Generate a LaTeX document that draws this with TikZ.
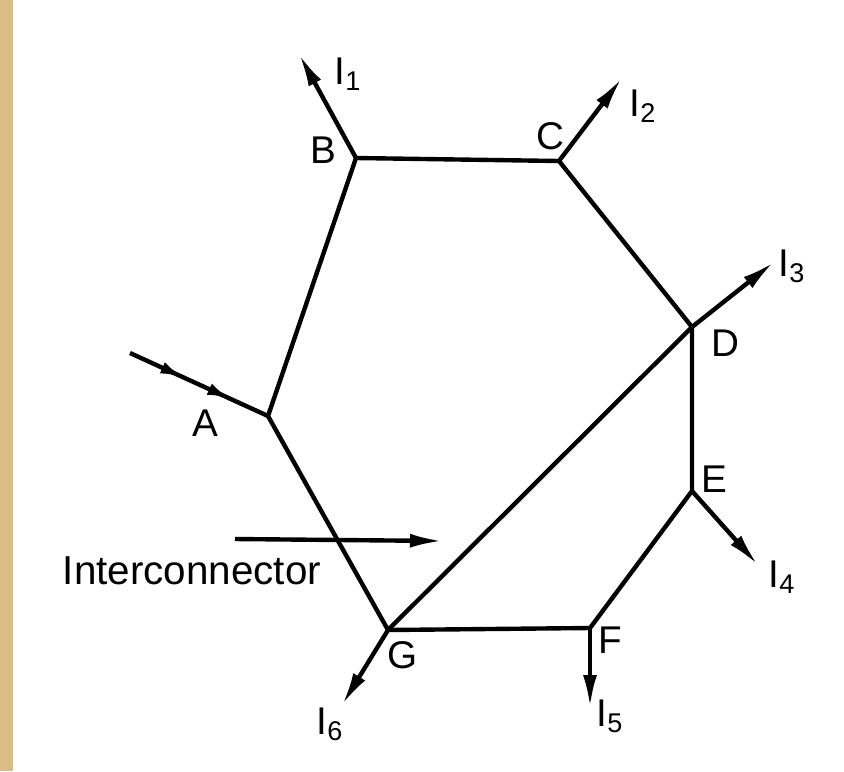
\documentclass[tikz,border=0pt]{standalone}
\usepackage{fontspec}
\setmainfont{Liberation Sans}
\usetikzlibrary{arrows.meta,decorations.markings}
\definecolor{paperTan}{HTML}{D9BC86}
\tikzset{
  busline/.style={line width=2.5pt,line join=round},
  loadarrow/.style={busline,-{Latex[length=0.66cm,width=0.28cm]}},
  feedline/.style={busline,postaction={decorate},decoration={markings,
      mark=at position 0.4 with {\arrow{Latex[length=0.5cm,width=0.24cm]}},
      mark=at position 0.74 with {\arrow{Latex[length=0.5cm,width=0.24cm]}}}},
  bustag/.style={font=\fontsize{22}{24}\selectfont,inner sep=0pt},
}

\begin{document}
\begin{tikzpicture}[x=0.02cm,y=-0.02cm]
  \useasboundingbox (0,0) rectangle (844,771);
  \fill[paperTan] (0,0) rectangle (13,771);
  % ring main junctions
  \coordinate (A) at (268,416);
  \coordinate (B) at (356,158);
  \coordinate (C) at (559,161);
  \coordinate (D) at (692,327);
  \coordinate (E) at (692,491);
  \coordinate (F) at (590,628);
  \coordinate (G) at (388,630);
  % load ends
  \coordinate (i1) at (299,54);
  \coordinate (i2) at (622,78);
  \coordinate (i3) at (774,262);
  \coordinate (i4) at (758,565);
  \coordinate (i5) at (590,708);
  \coordinate (i6) at (342,705);
  \coordinate (feed) at (130,353);
  \coordinate (tieS) at (235,539);
  \coordinate (tieE) at (443,541);

  \draw[busline] (A) -- (B) -- (C) -- (D) -- (E) -- (F) -- (G) -- cycle;
  \draw[busline] (G) -- (D);
  \draw[feedline] (feed) -- (A);
  \foreach \j/\k in {B/i1,C/i2,D/i3,E/i4,F/i5,G/i6}
    \draw[loadarrow] (\j) -- (\k);
  \draw[loadarrow] (tieS) -- (tieE);

  \node[bustag] (lA) at (205,423) {A};
  \node[bustag] (lB) at (323,150) {B};
  \node[bustag] (lC) at (550,136) {C};
  \node[bustag] (lD) at (725,343) {D};
  \node[bustag] (lE) at (714,479) {E};
  \node[bustag] (lF) at (610,640) {F};
  \node[bustag] (lG) at (403,655) {G};
  \node[bustag] (l1) at (348,74) {I\textsubscript{1}};
  \node[bustag] (l2) at (643,106) {I\textsubscript{2}};
  \node[bustag] (l3) at (792,266) {I\textsubscript{3}};
  \node[bustag] (l4) at (782,577) {I\textsubscript{4}};
  \node[bustag] (l5) at (610,716) {I\textsubscript{5}};
  \node[bustag] (l6) at (330,724) {I\textsubscript{6}};
  \node[bustag,font=\fontsize{23}{25}\selectfont] (tie) at (192,571) {Interconnector};
\end{tikzpicture}
\end{document}
